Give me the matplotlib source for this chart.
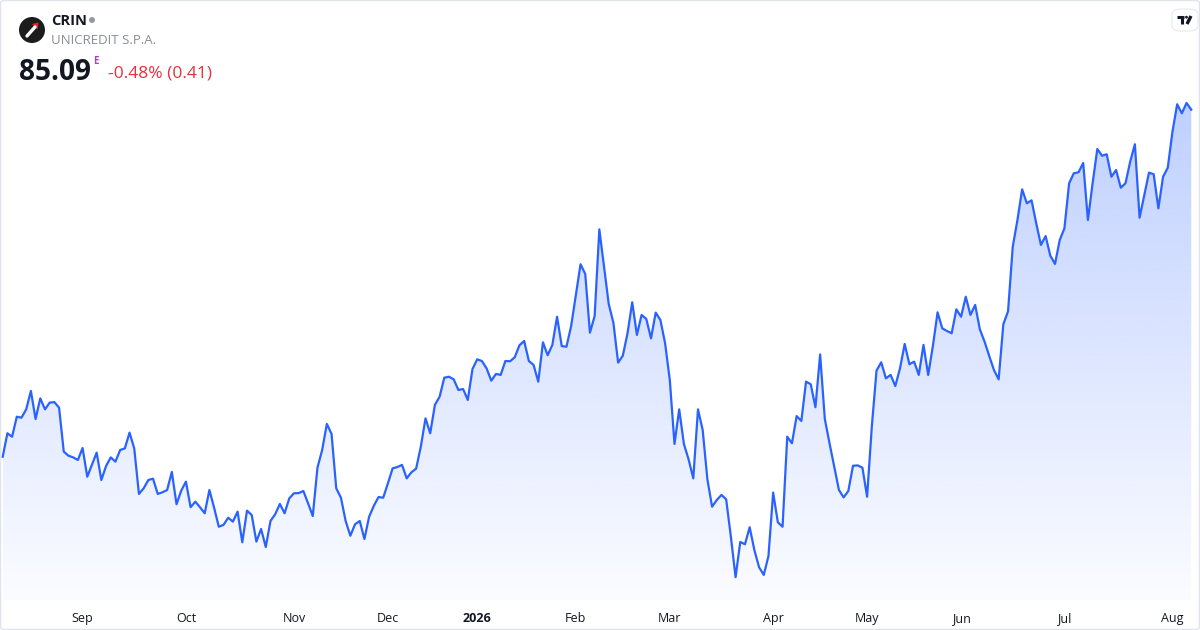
import matplotlib
matplotlib.use("Agg")
import matplotlib.pyplot as plt
import numpy as np
import pandas as pd
from matplotlib.patches import Ellipse, FancyBboxPatch, Polygon

# ---------------- data ----------------
SYMBOL = "CRIN"
NAME = "UNICREDIT S.P.A."
LAST_PRICE = "85.09"
CHANGE_TEXT = "-0.48% (0.41)"

START_DATE = "2025-08-06"
HOLIDAYS = ["2025-08-15", "2025-12-24", "2025-12-25", "2025-12-26", "2025-12-31",
            "2026-01-01", "2026-04-03", "2026-04-06", "2026-05-01"]

prices = [
    63.92, 65.35, 65.14, 66.36, 66.30, 66.81, 67.93, 66.22, 67.48, 66.81,
    67.22, 67.25, 66.91, 64.23, 63.98, 63.88, 63.72, 64.45, 62.70, 63.43,
    64.17, 62.50, 63.35, 63.88, 63.62, 64.33, 64.43, 65.39, 64.43, 61.65,
    61.99, 62.50, 62.58, 61.65, 61.75, 61.89, 62.99, 61.02, 61.85, 62.40,
    60.84, 61.18, 60.84, 60.47, 61.89, 60.81, 59.65, 59.76, 60.20, 59.96,
    60.57, 58.70, 60.63, 60.37, 58.74, 59.51, 58.41, 60.00, 60.41, 61.04,
    60.47, 61.38, 61.69, 61.70, 61.83, 61.08, 60.30, 63.25, 64.33, 65.92,
    65.31, 61.99, 61.42, 60.00, 59.10, 59.80, 60.00, 58.90, 60.26, 60.93,
    61.46, 61.42, 62.30, 63.21, 63.29, 63.42, 62.60, 62.97, 63.19, 64.53,
    66.26, 65.35, 67.08, 67.58, 68.74, 68.80, 68.64, 67.99, 68.05, 67.38,
    69.27, 69.86, 69.76, 69.31, 68.56, 68.97, 68.91, 69.76, 69.74, 69.99,
    70.72, 70.98, 69.76, 69.52, 68.50, 70.90, 70.11, 70.74, 72.46, 70.67,
    70.63, 71.89, 73.79, 75.66, 75.07, 71.49, 72.50, 77.79, 75.51, 73.24,
    72.08, 69.66, 70.08, 71.45, 73.34, 71.35, 72.57, 72.32, 71.14, 72.71,
    72.26, 70.84, 68.60, 64.70, 66.81, 64.70, 63.76, 62.60, 66.81, 65.55,
    62.54, 60.87, 61.28, 61.59, 61.32, 59.04, 56.57, 58.72, 58.58, 59.62,
    58.23, 57.18, 56.71, 57.86, 61.73, 59.92, 59.65, 65.14, 64.74, 66.40,
    66.10, 68.50, 68.34, 66.94, 70.16, 66.22, 64.74, 63.31, 61.89, 61.44,
    61.83, 63.37, 63.39, 63.25, 61.48, 65.75, 69.17, 69.68, 68.70, 68.91,
    68.23, 69.31, 70.80, 69.56, 69.72, 68.91, 70.74, 68.91, 70.67, 72.73,
    71.75, 71.59, 71.45, 72.91, 72.46, 73.68, 72.57, 73.18, 71.69, 70.94,
    70.06, 69.21, 68.64, 72.00, 72.79, 76.73, 78.36, 80.23, 79.38, 79.56,
    78.16, 76.84, 77.38, 76.18, 75.68, 77.14, 77.85, 80.60, 81.21, 81.27,
    81.84, 78.36, 80.60, 82.69, 82.28, 82.37, 81.00, 81.41, 80.33, 80.60,
    81.92, 82.98, 78.50, 79.89, 81.25, 81.15, 79.07, 81.00, 81.55, 83.75,
    85.42, 84.87, 85.50, 85.09,
]

dates = pd.bdate_range(start=START_DATE, periods=len(prices), freq="C", holidays=HOLIDAYS)

# month ticks at first trading day of each month (after the first partial month)
tick_idx, tick_labels = [], []
for i in range(1, len(dates)):
    if dates[i].month != dates[i - 1].month:
        tick_idx.append(i)
        tick_labels.append(str(dates[i].year) if dates[i].month == 1 else dates[i].strftime("%b"))

# ---------------- figure ----------------
W, H = 1200, 630
fig = plt.figure(figsize=(W / 100, H / 100), dpi=100)
fig.patch.set_facecolor("white")
plt.rcParams["font.family"] = ["Open Sans", "DejaVu Sans"]

LINE = "#2962ff"
TEXT = "#131722"
GREY = "#8a8d96"

ax_bottom_px = 600
ax = fig.add_axes([0, (H - ax_bottom_px) / H, 1, ax_bottom_px / H])
ax.set_facecolor("none")

x = np.arange(len(prices))
y = np.array(prices)

ax.set_xlim(-0.575, 254.86)
ax.set_ylim(55.18, 91.78)
ymin, ymax = ax.get_ylim()

# gradient fill under the line
fill_top = 85.6
grad = np.linspace(0.0, 1.0, 256).reshape(-1, 1)
alpha = 0.02 + 0.28 * grad
rgba = np.zeros((256, 1, 4))
rgba[..., 0] = 41 / 255
rgba[..., 1] = 98 / 255
rgba[..., 2] = 255 / 255
rgba[..., 3] = alpha
im = ax.imshow(rgba, extent=[x[0], x[-1], ymin, fill_top], origin="lower",
               aspect="auto", zorder=1, interpolation="bilinear")
poly_xy = np.vstack([np.column_stack([x, y]), [[x[-1], ymin], [x[0], ymin]]])
clip = Polygon(poly_xy, closed=True, facecolor="none", edgecolor="none")
ax.add_patch(clip)
im.set_clip_path(clip)
ax.set_xlim(-0.575, 254.86)
ax.set_ylim(55.18, 91.78)

ax.plot(x, y, color=LINE, lw=1.6, zorder=3, solid_joinstyle="round")

for s in ax.spines.values():
    s.set_visible(False)
ax.set_yticks([])
ax.set_xticks(tick_idx)
ax.set_xticklabels(tick_labels, fontsize=9, color=TEXT)
ax.tick_params(axis="x", length=0, pad=8.5)
for lbl in ax.get_xticklabels():
    if lbl.get_text().isdigit():
        lbl.set_fontweight("bold")

# ---------------- header ----------------
def fx(px):
    return px / W

def fy(py):
    return 1 - py / H

def dot(cx, cy, r, color):
    fig.patches.append(Ellipse((fx(cx), fy(cy)), 2 * r / W, 2 * r / H,
                               transform=fig.transFigure, facecolor=color, edgecolor="none"))

# logo
dot(32, 30, 13, "#1c1c1c")
fig.lines.append(plt.Line2D([fx(27), fx(35)], [fy(36), fy(27)], transform=fig.transFigure,
                            color="white", lw=2.4, solid_capstyle="round"))
fig.patches.append(Polygon([[fx(32), fy(24)], [fx(38.5), fy(22.5)], [fx(37.5), fy(29.5)]],
                           closed=True, transform=fig.transFigure, facecolor="#e3262b",
                           edgecolor="none"))

fig.text(fx(51), fy(21), SYMBOL, fontsize=10.5, fontweight="bold", color=TEXT,
         ha="left", va="center")
dot(92, 20, 3, "#9598a1")
fig.text(fx(51), fy(40), NAME, fontsize=9.5, color=GREY, ha="left", va="center")
fig.text(fx(18.5), fy(72), LAST_PRICE, fontsize=20.2, fontweight="bold", color=TEXT,
         ha="left", va="center")
fig.text(fx(93), fy(61), "E", fontsize=7, fontweight="bold", color="#ab47bc",
         ha="left", va="center")
fig.text(fx(108), fy(74), CHANGE_TEXT, fontsize=12.5, color="#e5303e",
         ha="left", va="center")

# TradingView badge
badge = FancyBboxPatch((fx(1172), fy(31)), 26 / W, 22 / H,
                       boxstyle="round,pad=0,rounding_size=0.008",
                       transform=fig.transFigure, facecolor="white",
                       edgecolor="#e6e8ee", lw=0.8)
fig.patches.append(badge)
fig.lines.append(plt.Line2D([fx(1177), fx(1184)], [fy(17), fy(17)], transform=fig.transFigure,
                            color=TEXT, lw=2.2, solid_capstyle="butt"))
fig.lines.append(plt.Line2D([fx(1182), fx(1182)], [fy(17), fy(24)], transform=fig.transFigure,
                            color=TEXT, lw=2.2, solid_capstyle="butt"))
fig.lines.append(plt.Line2D([fx(1187), fx(1191)], [fy(24), fy(16)], transform=fig.transFigure,
                            color=TEXT, lw=2.4, solid_capstyle="butt"))
dot(1186.5, 17.2, 1.4, TEXT)

# outer border
border = FancyBboxPatch((0.5 / W, 0.5 / H), 1 - 1 / W, 1 - 1 / H,
                        boxstyle="round,pad=0,rounding_size=0.004",
                        transform=fig.transFigure, facecolor="none",
                        edgecolor="#e0e3eb", lw=1.0)
fig.patches.append(border)

fig.savefig("out.png", dpi=100, facecolor="white")
